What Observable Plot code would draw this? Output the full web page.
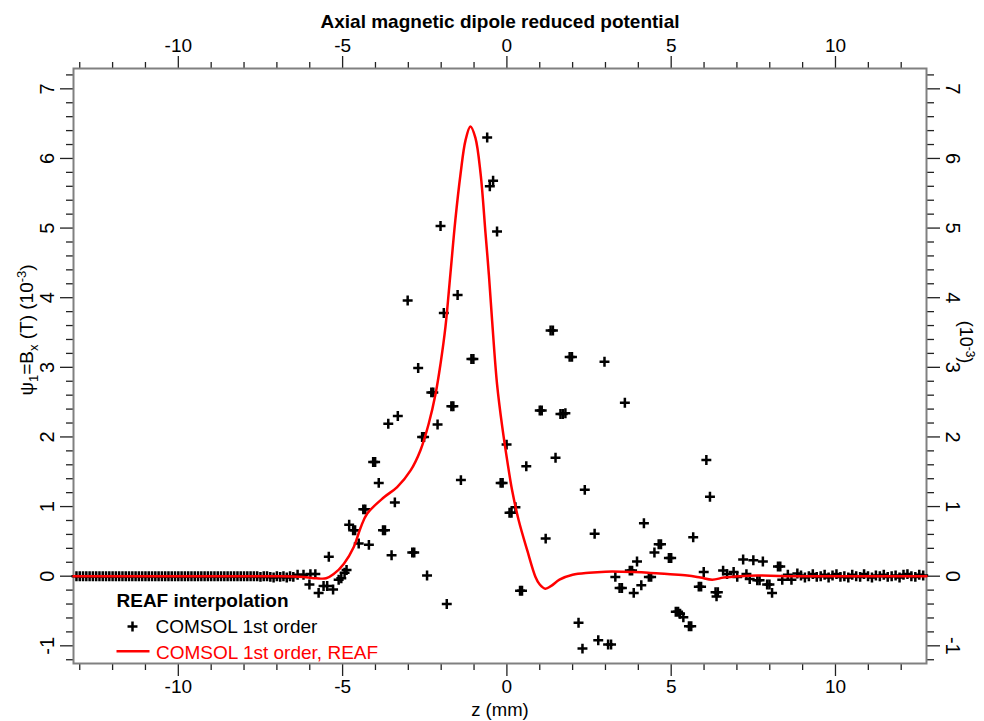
<!DOCTYPE html>
<html><head><meta charset="utf-8">
<script src="https://cdn.jsdelivr.net/npm/d3@7"></script>
<script src="https://cdn.jsdelivr.net/npm/@observablehq/plot@0.6"></script>
<style>body{margin:0;background:#fff}#chart{width:984px;height:721px}</style>
</head><body><div id="chart"></div>
<script>
const title = "Axial magnetic dipole reduced potential";
const xLabel = "z (mm)";
const legendTitle = "REAF interpolation";
const legendLabels = ["COMSOL 1st order", "COMSOL 1st order, REAF"];
const xMajorTicks = [-10, -5, 0, 5, 10];
const xMinorTicks = [-13, -12, -11, -9, -8, -7, -6, -4, -3, -2, -1, 1, 2, 3, 4, 6, 7, 8, 9, 11, 12];
const yMajorTicks = [-1, 0, 1, 2, 3, 4, 5, 6, 7];
const yMinorTicks = [-1.2, -0.8, -0.6, -0.4, -0.2, 0.2, 0.4, 0.6, 0.8, 1.2, 1.4, 1.6, 1.8, 2.2, 2.4, 2.6, 2.8,
  3.2, 3.4, 3.6, 3.8, 4.2, 4.4, 4.6, 4.8, 5.2, 5.4, 5.6, 5.8, 6.2, 6.4, 6.6, 6.8, 7.2];

// COMSOL 1st order (scatter)
const comsolZ = [
  -13.1,-13.0,-12.9,-12.8,-12.7,-12.6,-12.5,-12.4,-12.3,-12.2,-12.1,-12.0,-11.9,-11.8,-11.7,-11.6,-11.5,-11.4,-11.3,-11.2,
  -11.1,-11.0,-10.9,-10.8,-10.7,-10.6,-10.5,-10.4,-10.3,-10.2,-10.1,-10.0,-9.9,-9.8,-9.7,-9.6,-9.5,-9.4,-9.3,-9.2,
  -9.1,-9.0,-8.9,-8.8,-8.7,-8.6,-8.5,-8.4,-8.3,-8.2,-8.1,-8.0,-7.9,-7.8,-7.7,-7.6,-7.5,-7.4,-7.3,-7.2,
  -7.1,-7.0,-6.9,-6.8,-6.7,-6.6,-6.5,
  -6.37,-6.19,-6.01,-5.98,-5.83,-5.73,-5.58,-5.47,-5.42,-5.29,-5.12,-5.04,-4.94,-4.88,-4.80,-4.68,-4.62,-4.51,-4.37,-4.31,
  -4.20,-4.07,-4.01,-3.90,-3.77,-3.71,-3.61,-3.51,-3.41,-3.32,-3.02,-2.88,-2.82,-2.70,-2.58,-2.52,-2.43,-2.30,-2.24,-2.11,
  -2.02,-1.92,-1.83,-1.69,-1.63,-1.50,-1.40,-1.08,-1.02,-0.60,-0.52,-0.42,-0.30,-0.19,-0.13,-0.01,0.08,0.14,0.26,0.40,
  0.46,0.59,1.00,1.06,1.18,1.33,1.40,1.48,1.63,1.70,1.78,1.91,1.98,2.18,2.30,2.37,2.67,2.78,2.97,3.08,
  3.17,3.30,3.43,3.50,3.59,3.74,3.81,3.86,3.96,4.09,4.17,4.32,4.39,4.49,4.62,4.69,4.93,5.00,5.14,5.21,
  5.27,5.37,5.54,5.61,5.67,5.84,5.91,5.99,6.07,6.18,6.35,6.38,6.42,6.58,6.70,6.90,7.01,7.19,7.29,7.39,
  7.50,7.62,7.69,7.79,7.92,7.99,8.07,8.25,8.32,8.38,8.55,8.66,8.84,
  8.95,9.07,9.19,9.31,9.43,9.55,9.67,9.79,9.91,10.03,10.15,10.27,10.39,10.51,10.63,10.75,10.87,10.99,11.11,11.23,
  11.35,11.47,11.59,11.71,11.83,11.95,12.07,12.19,12.31,12.43,12.55,12.67
];
const comsolPsi = [
  0,0,0,0,0,0,0,0,0,0,0,0,0,0,0,0,0,0,0,0,
  0,0,0,0,0,0,0,0,0,0,0,0,0,0,0,0,0,0,0,0,
  0,0,0,0,0,0,0,0,0,0,0,0,0,0,0,0,-0.01,0,0,-0.01,
  -0.02,0,-0.01,0,-0.02,0,-0.01,
  0.02,0.02,-0.12,0.03,0.03,-0.24,-0.14,-0.14,0.28,-0.19,-0.05,-0.03,0.05,0.09,0.74,0.66,0.66,0.47,0.96,0.96,
  0.45,1.64,1.64,1.34,0.66,0.66,2.19,0.30,1.06,2.30,3.96,0.34,0.34,2.99,2.00,2.00,0.01,2.64,2.64,2.18,
  5.03,3.78,-0.40,2.44,2.44,4.04,1.38,3.12,3.12,6.30,5.60,5.68,4.95,1.34,1.34,1.89,0.91,0.91,0.99,-0.21,
  -0.21,1.58,2.38,2.38,0.54,3.53,3.53,1.70,2.33,2.33,2.34,3.15,3.15,-0.67,-1.04,1.24,0.61,-0.92,3.08,-0.98,
  -0.98,-0.01,-0.17,-0.17,2.49,0.08,0.08,-0.24,0.21,-0.13,0.76,-0.01,-0.01,0.34,0.46,0.46,0.26,0.26,-0.51,-0.51,
  -0.54,-0.59,-0.72,-0.72,0.56,-0.15,-0.15,0.06,1.67,1.14,-0.23,-0.29,-0.23,0.08,0.03,0.06,-0.01,0.24,0.03,-0.04,
  0.23,-0.06,-0.06,0.21,-0.12,-0.12,-0.24,0.14,0.14,-0.05,0.02,-0.05,0.04,
  0.01,-0.02,0.0,0.03,-0.01,0.0,0.02,-0.02,0.01,0.03,-0.01,0.0,-0.02,0.02,0.0,-0.01,0.03,0.0,-0.02,0.01,
  0.0,0.02,-0.01,0.0,0.01,-0.02,0.02,0.03,0.0,-0.01,0.02,0.01
];

// COMSOL 1st order, REAF (line)
const reafZ = [-13.19,-10,-7,-6.2,-5.8,-5.5,-5.27,-4.96,-4.66,-4.45,-4.25,-3.75,-3.34,-2.93,-2.63,-2.38,-2.17,-2.02,-1.87,-1.72,
  -1.57,-1.41,-1.26,-1.11,-0.96,-0.80,-0.65,-0.55,-0.45,-0.30,-0.14,0.01,0.16,0.36,0.62,0.87,1.0,1.17,1.35,1.6,
  2.0,2.5,3.0,3.5,3.86,4.3,4.88,5.49,5.89,6.25,6.6,7.1,7.62,8.5,12.77];
const reafPsi = [0,0,0,-0.01,-0.03,-0.03,0.03,0.18,0.42,0.70,0.90,1.13,1.28,1.52,1.81,2.19,2.62,3.05,3.58,4.34,
  5.11,5.78,6.26,6.46,6.30,5.78,4.92,4.34,3.67,2.76,2.14,1.66,1.23,0.80,0.37,-0.01,-0.12,-0.18,-0.14,-0.05,
  0.02,0.05,0.065,0.065,0.06,0.05,0.03,0.01,-0.02,-0.05,-0.02,0.0,0.01,0.0,0];

const points = comsolZ.map((z, i) => ({z, psi: comsolPsi[i]}));
const curve = reafZ.map((z, i) => ({z, psi: reafPsi[i]}));

const font = "'Liberation Sans', Arial, Helvetica, sans-serif";
const tickColor = "#222";
const fmt = d => String(d);
const lineSymbol = {draw(ctx) { ctx.moveTo(-16.5, 0); ctx.lineTo(16.5, 0); }};

const chart = Plot.plot({
  width: 984, height: 721,
  marginLeft: 73, marginRight: 58, marginTop: 68, marginBottom: 58,
  x: {domain: [-13.19, 12.77]},
  y: {domain: [-1.254, 7.292]},
  style: {fontFamily: font, fontSize: "20px", color: "#000", background: "#fff"},
  marks: [
    Plot.axisX({anchor: "bottom", ticks: xMinorTicks, tickSize: 7, tickFormat: () => "", label: null, stroke: tickColor, strokeWidth: 1.3}),
    Plot.axisX({anchor: "top", ticks: xMinorTicks, tickSize: 7, tickFormat: () => "", label: null, stroke: tickColor, strokeWidth: 1.3}),
    Plot.axisY({anchor: "left", ticks: yMinorTicks, tickSize: 7, tickFormat: () => "", label: null, stroke: tickColor, strokeWidth: 1.3}),
    Plot.axisY({anchor: "right", ticks: yMinorTicks, tickSize: 7, tickFormat: () => "", label: null, stroke: tickColor, strokeWidth: 1.3}),
    Plot.axisX({anchor: "bottom", ticks: xMajorTicks, tickSize: 13, tickPadding: 3, tickFormat: fmt, label: null, stroke: tickColor, strokeWidth: 1.3, fontSize: 19}),
    Plot.axisX({anchor: "top", ticks: xMajorTicks, tickSize: 13, tickPadding: 4, tickFormat: fmt, label: null, stroke: tickColor, strokeWidth: 1.3, fontSize: 19}),
    Plot.axisY({anchor: "left", ticks: yMajorTicks, tickSize: 13, tickPadding: 7, tickRotate: -90, textAnchor: "middle", lineAnchor: "bottom", tickFormat: fmt, label: null, stroke: tickColor, strokeWidth: 1.3, fontSize: 20}),
    Plot.axisY({anchor: "right", ticks: yMajorTicks, tickSize: 13, tickPadding: 6, tickRotate: 90, textAnchor: "middle", lineAnchor: "bottom", tickFormat: fmt, label: null, stroke: tickColor, strokeWidth: 1.3, fontSize: 20}),
    Plot.frame({stroke: "#808080", strokeWidth: 2}),
    Plot.dot(points, {x: "z", y: "psi", symbol: "plus", r: 3.3, stroke: "#000", strokeWidth: 2.5}),
    Plot.line(curve, {x: "z", y: "psi", stroke: "#ff0000", strokeWidth: 2.5, curve: "catmull-rom"}),
    Plot.text([title], {text: d => d, frameAnchor: "top", dy: -54, fontWeight: "bold", fontSize: 19}),
    Plot.text([xLabel], {text: d => d, frameAnchor: "bottom", dy: 52, fontSize: 18.5}),
    Plot.text([legendTitle], {text: d => d, frameAnchor: "bottom-left", dx: 43, dy: -56.3, textAnchor: "start", lineAnchor: "bottom", fontWeight: "bold", fontSize: 19}),
    Plot.dot([legendLabels[0]], {frameAnchor: "bottom-left", dx: 59, dy: -37, symbol: "plus", r: 3.3, stroke: "#000", strokeWidth: 2.5}),
    Plot.text([legendLabels[0]], {text: d => d, frameAnchor: "bottom-left", dx: 82, dy: -30.3, textAnchor: "start", lineAnchor: "bottom", fontSize: 19}),
    Plot.dot([legendLabels[1]], {frameAnchor: "bottom-left", dx: 59.5, dy: -12.3, symbol: lineSymbol, fill: "none", stroke: "#ff0000", strokeWidth: 2.5}),
    Plot.text([legendLabels[1]], {text: d => d, frameAnchor: "bottom-left", dx: 82.5, dy: -4.7, textAnchor: "start", lineAnchor: "bottom", fontSize: 19, fill: "#ff0000"})
  ]
});
document.getElementById("chart").appendChild(chart);

// y-axis titles with sub/superscripts
const svg = d3.select(chart);
const yl = svg.append("text")
  .attr("transform", "translate(33,330) rotate(-90)")
  .attr("text-anchor", "middle").attr("font-size", 19).attr("fill", "#000");
yl.append("tspan").text("\u03c8");
yl.append("tspan").attr("dy", 5).attr("font-size", 13).text("1");
yl.append("tspan").attr("dy", -5).text("=B");
yl.append("tspan").attr("dy", 5).attr("font-size", 13).text("x");
yl.append("tspan").attr("dy", -5).text(" (T) (10");
yl.append("tspan").attr("dy", -7).attr("font-size", 13).text("-3");
yl.append("tspan").attr("dy", 7).text(")");

const yr = svg.append("text")
  .attr("transform", "translate(960,342) rotate(90)")
  .attr("text-anchor", "middle").attr("font-size", 18).attr("fill", "#000");
yr.append("tspan").text("(10");
yr.append("tspan").attr("dy", -6).attr("font-size", 12).text("-3");
yr.append("tspan").attr("dy", 6).text(")");
</script>
</body></html>
